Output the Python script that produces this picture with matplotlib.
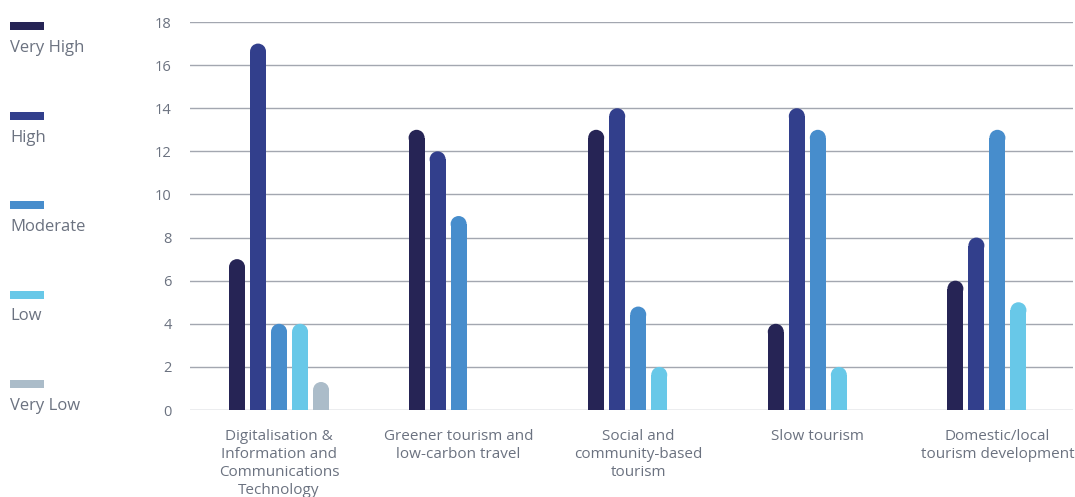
import matplotlib.pyplot as plt
from matplotlib.patches import Ellipse, Rectangle

categories = [
    "Digitalisation &\nInformation and\nCommunications\nTechnology",
    "Greener tourism and\nlow-carbon travel",
    "Social and\ncommunity-based\ntourism",
    "Slow tourism",
    "Domestic/local\ntourism development",
]
levels = ["Very High", "High", "Moderate", "Low", "Very Low"]
colors = ["#262455", "#323f8c", "#478dcc", "#68c8e8", "#abbcc9"]

very_high = [7, 13, 13, 4, 6]
high = [17, 12, 14, 14, 8]
moderate = [4, 9, 4.8, 13, 13]
low = [4, 0, 2, 2, 5]
very_low = [1.3, 0, 0, 0, 0]
series = [very_high, high, moderate, low, very_low]

TEXT = "#6b7280"
GRID = "#a3a7b0"

plt.rcParams['font.family'] = ['Open Sans', 'DejaVu Sans']

fig = plt.figure(figsize=(10.75, 4.97), dpi=100)
ax = fig.add_axes([0.1767, 0.175, 0.8213, 0.7807])

slot = 0.117
width = 0.089
cap_h = 0.74  # cap height in data units so the top reads as a half circle

for i, (vals, col) in enumerate(zip(series, colors)):
    for j, v in enumerate(vals):
        if v <= 0:
            continue
        x = j + (i - 2) * slot
        body = max(v - cap_h / 2, 0)
        ax.add_patch(Rectangle((x - width / 2, 0), width, body,
                               facecolor=col, edgecolor='none', zorder=3))
        ax.add_patch(Ellipse((x, body), width, cap_h,
                             facecolor=col, edgecolor='none', zorder=3))

ax.set_xlim(-0.496, 4.42)
ax.set_ylim(0, 18)
ax.set_yticks(range(0, 19, 2))
ax.yaxis.grid(True, color=GRID, linewidth=1)
ax.set_axisbelow(True)
for s in ax.spines.values():
    s.set_visible(False)
ax.tick_params(axis='y', length=0, pad=13, labelsize=10.5, labelcolor=TEXT)
ax.set_xticks(range(len(categories)))
ax.set_xticklabels(categories, fontsize=11, color=TEXT, linespacing=1.27)
ax.tick_params(axis='x', length=0, pad=14)

# legend down the left side: swatch with the label underneath
for k, (lab, col) in enumerate(zip(levels, colors)):
    ytop = 22 + k * 89.5
    fig.patches.append(Rectangle((10 / 1075, 1 - (ytop + 8) / 497), 34 / 1075, 8 / 497,
                                 transform=fig.transFigure, facecolor=col,
                                 edgecolor='none'))
    fig.text(10 / 1075, 1 - (ytop + 26) / 497, lab, fontsize=12, color=TEXT,
             ha='left', va='center')

fig.savefig('out.png', dpi=100)
